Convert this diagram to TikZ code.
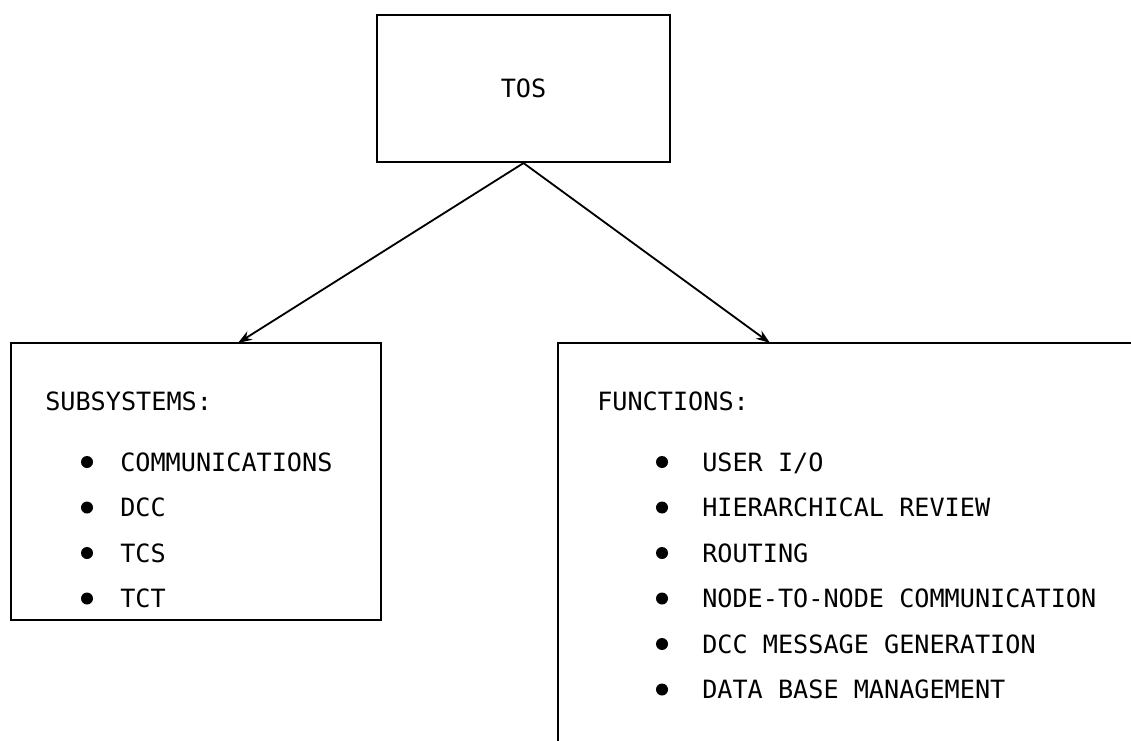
\documentclass[tikz,border=0pt]{standalone}
\usepackage{fontspec}
\setmonofont{DejaVu Sans Mono}
\usetikzlibrary{arrows.meta}
\tikzset{
	box/.style={draw, line width=1.5pt, inner sep=0pt},
	txt/.style={anchor=base west, inner sep=0pt, font=\ttfamily\fontsize{17.9}{20}\selectfont},
	dot/.style={circle, fill, inner sep=0pt, minimum size=0.3cm},
}
\begin{document}
\begin{tikzpicture}[>={Stealth[length=10pt,width=7pt]}, x=0.025cm, y=-0.025cm]
				\useasboundingbox (0,0) rectangle (1131,741);
				\node[box, minimum width=7.325cm, minimum height=3.675cm, font=\ttfamily\fontsize{17.9}{20}\selectfont] (tos) at (523.5,88.5) {TOS};
				\node[box, minimum width=9.25cm, minimum height=6.925cm] (subsys) at (196,481.5) {};
				\coordinate (subtop) at (238,343);
				\coordinate (funtop) at (770,343);
				\coordinate (funleft) at (558,343);
				\coordinate (funright) at (1131,343);
				\coordinate (funbottom) at (558,741);
				\draw[line width=1.5pt] (funright) -- (funleft) -- (funbottom);
				\draw[->, line width=1.3pt] (tos.south) -- (subtop);
				\draw[->, line width=1.3pt] (tos.south) -- (funtop);
				\node[txt] (subhead) at (45,410) {SUBSYSTEMS:};
				\node[dot] (subdot1) at (87,462) {};
				\node[txt] (sub1) at (120,471) {COMMUNICATIONS};
				\node[dot] (subdot2) at (87,507.5) {};
				\node[txt] (sub2) at (120,516.5) {DCC};
				\node[dot] (subdot3) at (87,553) {};
				\node[txt] (sub3) at (120,562) {TCS};
				\node[dot] (subdot4) at (87,598.5) {};
				\node[txt] (sub4) at (120,607.5) {TCT};
				\node[txt] (funhead) at (597,410) {FUNCTIONS:};
				\node[dot] (fundot1) at (662,462) {};
				\node[txt] (fun1) at (702,471) {USER I/O};
				\node[dot] (fundot2) at (662,507.5) {};
				\node[txt] (fun2) at (702,516.5) {HIERARCHICAL REVIEW};
				\node[dot] (fundot3) at (662,553) {};
				\node[txt] (fun3) at (702,562) {ROUTING};
				\node[dot] (fundot4) at (662,598.5) {};
				\node[txt] (fun4) at (702,607.5) {NODE-TO-NODE COMMUNICATION};
				\node[dot] (fundot5) at (662,644) {};
				\node[txt] (fun5) at (702,653) {DCC MESSAGE GENERATION};
				\node[dot] (fundot6) at (662,689.5) {};
				\node[txt] (fun6) at (702,698.5) {DATA BASE MANAGEMENT};
			\end{tikzpicture}
\end{document}
